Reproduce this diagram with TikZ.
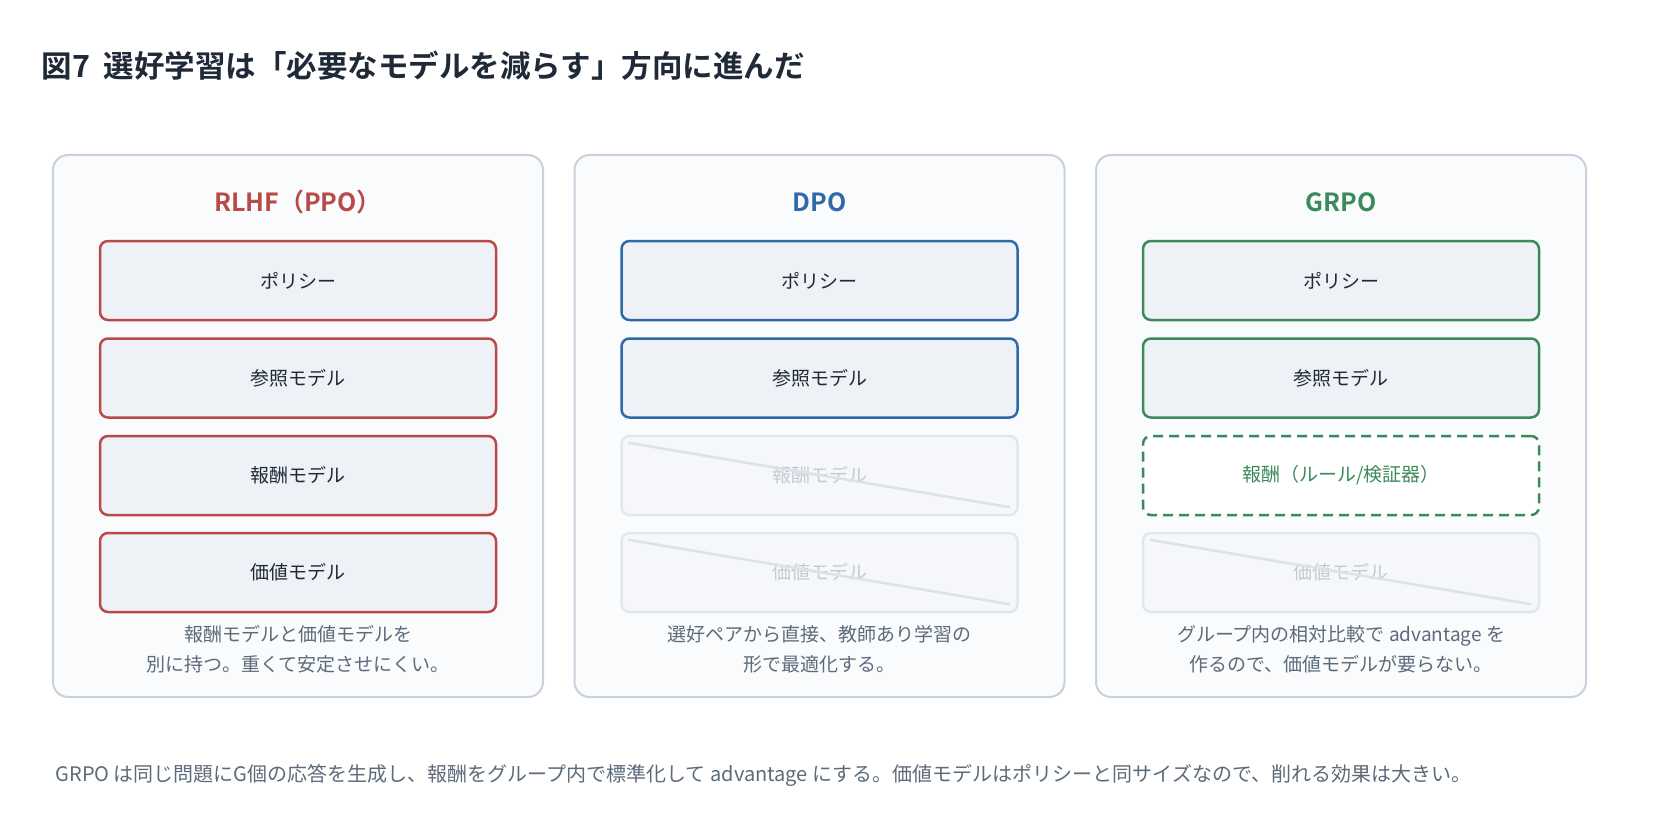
\documentclass[tikz,border=0pt]{standalone}
\usepackage{fontspec}
\setmainfont{Noto Sans CJK JP}[BoldFont={Noto Sans CJK JP Bold}]
\usetikzlibrary{positioning}

\definecolor{ink}{HTML}{1F2937}
\definecolor{muted}{HTML}{5C6B7A}
\definecolor{panelfill}{HTML}{F9FBFD}
\definecolor{panelline}{HTML}{C8D1DC}
\definecolor{boxfill}{HTML}{EEF2F7}
\definecolor{rlhfred}{HTML}{B94A48}
\definecolor{dpoblue}{HTML}{2F6AA8}
\definecolor{grpogreen}{HTML}{3B8A5A}
\definecolor{gonefill}{HTML}{F5F7FA}
\definecolor{goneline}{HTML}{E3E7EC}
\definecolor{gonetext}{HTML}{C5CBD3}
\definecolor{strike}{HTML}{DDE2E8}

\tikzset{
	panel/.style={draw=panelline, fill=panelfill, line width=2pt, rounded corners=15pt,
		minimum width=490pt, minimum height=542pt, inner sep=0pt},
	head/.style={font=\fontsize{25}{25}\selectfont\bfseries},
	model/.style={line width=2.5pt, rounded corners=8pt, fill=boxfill, text=ink,
		minimum width=396pt, minimum height=79pt, inner sep=0pt,
		font=\fontsize{19}{19}\selectfont},
	gone/.style={model, draw=goneline, fill=gonefill, text=gonetext},
	strikeline/.style={draw=strike, line width=2.5pt},
	caption/.style={text=muted, align=center, font=\fontsize{19}{30}\selectfont}
}

\begin{document}
\begin{tikzpicture}[x=1pt,y=-1pt]
	\useasboundingbox[fill=white] (0,0) rectangle (1655,824);

	\node[anchor=west, text=ink, font=\fontsize{30.5}{30.5}\selectfont\bfseries] (fig) at (38,66)
		{図7\hspace{0.45em}選好学習は「必要なモデルを減らす」方向に進んだ};

	% three panels
	\node[panel] (pRLHF) at (298,426) {};
	\node[panel] (pDPO) at (819.5,426) {};
	\node[panel] (pGRPO) at (1341,426) {};

	\node[head, text=rlhfred] (tRLHF) at (298,202) {RLHF（PPO）};
	\node[head, text=dpoblue] (tDPO) at (819.5,202) {DPO};
	\node[head, text=grpogreen] (tGRPO) at (1341,202) {GRPO};

	% RLHF
	\node[model, draw=rlhfred] (rPol) at (298,280.5) {ポリシー};
	\node[model, draw=rlhfred] (rRef) at (298,378) {参照モデル};
	\node[model, draw=rlhfred] (rRew) at (298,475.5) {報酬モデル};
	\node[model, draw=rlhfred] (rVal) at (298,572.5) {価値モデル};

	% DPO
	\node[model, draw=dpoblue] (dPol) at (819.5,280.5) {ポリシー};
	\node[model, draw=dpoblue] (dRef) at (819.5,378) {参照モデル};
	\node[gone] (dRew) at (819.5,475.5) {報酬モデル};
	\node[gone] (dVal) at (819.5,572.5) {価値モデル};
	\draw[strikeline] ([shift={(8,8)}]dRew.north west) -- ([shift={(-9,-9)}]dRew.south east);
	\draw[strikeline] ([shift={(8,8)}]dVal.north west) -- ([shift={(-9,-9)}]dVal.south east);

	% GRPO
	\node[model, draw=grpogreen] (gPol) at (1341,280.5) {ポリシー};
	\node[model, draw=grpogreen] (gRef) at (1341,378) {参照モデル};
	\node[model, draw=grpogreen, fill=white, text=grpogreen, dash pattern=on 10pt off 6pt] (gRew) at (1341,475.5) {報酬（ルール/検証器）};
	\node[gone] (gVal) at (1341,572.5) {価値モデル};
	\draw[strikeline] ([shift={(8,8)}]gVal.north west) -- ([shift={(-9,-9)}]gVal.south east);

	\node[caption] (cRLHF) at (298,649) {報酬モデルと価値モデルを\\別に持つ。重くて安定させにくい。};
	\node[caption] (cDPO) at (819.5,649) {選好ペアから直接、教師あり学習の\\形で最適化する。};
	\node[caption] (cGRPO) at (1341,649) {グループ内の相対比較で advantage を\\作るので、価値モデルが要らない。};

	\node[anchor=west, text=muted, font=\fontsize{20}{20}\selectfont] (note) at (52,775)
		{GRPO は同じ問題にG個の応答を生成し、報酬をグループ内で標準化して advantage にする。価値モデルはポリシーと同サイズなので、削れる効果は大きい。};
\end{tikzpicture}
\end{document}
